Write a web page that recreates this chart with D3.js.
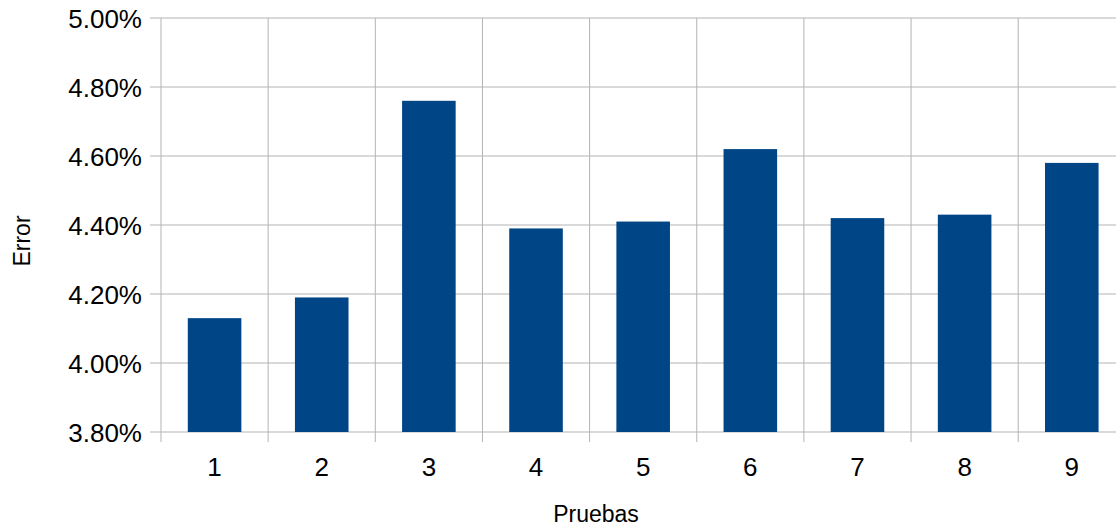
<!DOCTYPE html>
<html>
<head>
<meta charset="utf-8">
<script src="https://cdn.jsdelivr.net/npm/d3@7"></script>
<style>
  body { margin: 0; background: #fff; }
  text { font-family: "Liberation Sans", Arial, sans-serif; fill: #000; }
</style>
</head>
<body>
<svg id="chart"></svg>
<script>
const width = 1116;
const height = 527;

const pruebas = ["1", "2", "3", "4", "5", "6", "7", "8", "9"];
const errores = [4.13, 4.19, 4.76, 4.39, 4.41, 4.62, 4.42, 4.43, 4.58];
const yTicks = [3.8, 4.0, 4.2, 4.4, 4.6, 4.8, 5.0];

const plotLeft = 161;
const plotTop = 18;
const plotBottom = 432;
const step = 107.15;

const svg = d3.select("#chart").attr("width", width).attr("height", height);

const x = d3
  .scaleBand()
  .domain(pruebas)
  .range([plotLeft, plotLeft + step * pruebas.length])
  .paddingInner(0.5)
  .paddingOuter(0.25);

const y = d3.scaleLinear().domain([3.8, 5.0]).range([plotBottom, plotTop]);

const gridColor = "#b3b3b3";

// horizontal grid + left ticks
svg
  .append("g")
  .selectAll("line")
  .data(yTicks)
  .enter()
  .append("line")
  .attr("x1", plotLeft - 11)
  .attr("x2", width)
  .attr("y1", (d) => y(d))
  .attr("y2", (d) => y(d))
  .attr("stroke", gridColor)
  .attr("stroke-width", 1);

// vertical category lines, extending below axis as ticks
const bounds = d3.range(pruebas.length + 1).map((i) => plotLeft + i * x.step());
svg
  .append("g")
  .selectAll("line")
  .data(bounds)
  .enter()
  .append("line")
  .attr("x1", (d) => d)
  .attr("x2", (d) => d)
  .attr("y1", plotTop)
  .attr("y2", plotBottom + 10)
  .attr("stroke", gridColor)
  .attr("stroke-width", 1);

// bars
svg
  .append("g")
  .selectAll("rect")
  .data(errores)
  .enter()
  .append("rect")
  .attr("x", (d, i) => x(pruebas[i]))
  .attr("width", x.bandwidth())
  .attr("y", (d) => y(d))
  .attr("height", (d) => plotBottom - y(d))
  .attr("fill", "#004586");

// y labels
svg
  .append("g")
  .selectAll("text")
  .data(yTicks)
  .enter()
  .append("text")
  .attr("x", 142)
  .attr("y", (d) => y(d) + 10)
  .attr("text-anchor", "end")
  .style("font-size", "26px")
  .text((d) => d.toFixed(2) + "%");

// x labels
svg
  .append("g")
  .selectAll("text")
  .data(pruebas)
  .enter()
  .append("text")
  .attr("x", (d) => x(d) + x.bandwidth() / 2)
  .attr("y", 476)
  .attr("text-anchor", "middle")
  .style("font-size", "26px")
  .text((d) => d);

// axis titles
svg
  .append("text")
  .attr("x", 596)
  .attr("y", 522)
  .attr("text-anchor", "middle")
  .style("font-size", "23px")
  .text("Pruebas");

svg
  .append("text")
  .attr("transform", "translate(30,241) rotate(-90)")
  .attr("text-anchor", "middle")
  .style("font-size", "23px")
  .text("Error");
</script>
</body>
</html>
